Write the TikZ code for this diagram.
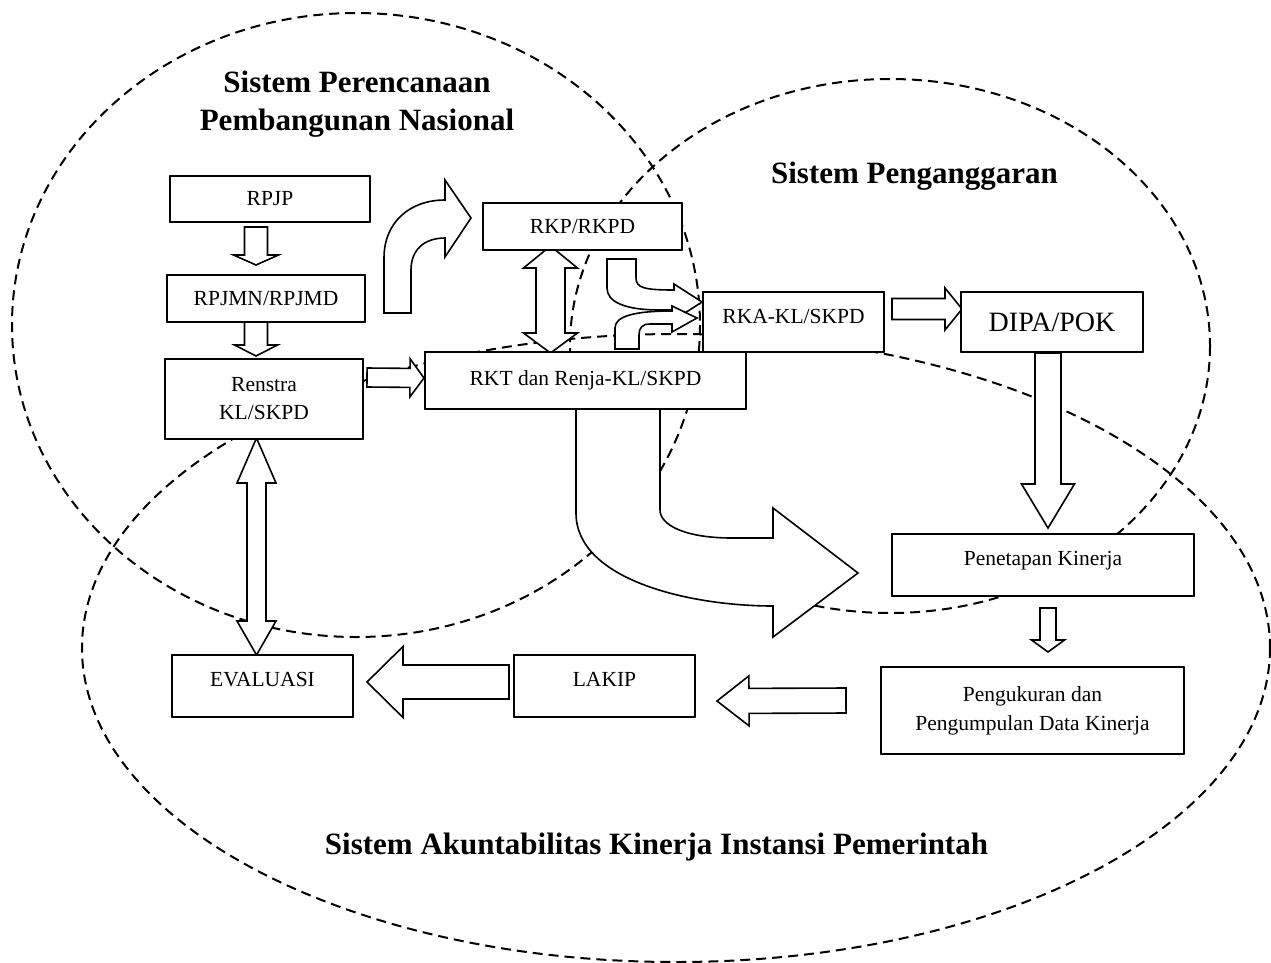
\documentclass[tikz,border=0pt]{standalone}
\usepackage{fontspec}
\setmainfont{Liberation Serif}
\usetikzlibrary{calc}
\tikzset{
  kotak/.style={draw, line width=2pt, fill=white, inner sep=0pt, outer sep=0pt,
    align=center, font=\fontsize{21.5pt}{28pt}\selectfont},
  naik/.style={text height=14pt, text depth=#1},
  judul/.style={align=center, font=\bfseries\fontsize{31pt}{38pt}\selectfont},
  putus/.style={dash pattern=on 10pt off 6pt, line width=2pt},
  blok/.style={draw, fill=white, line width=1.6pt, line join=miter}
}
% block arrow: start, tip, half shaft, half head, head length
\newcommand{\blokpanah}[5]{%
  \path #1 coordinate (pA) #2 coordinate (pB);
  \path ($(pB)!#5!(pA)$) coordinate (pH);
  \draw[blok] ($(pA)!#3!90:(pB)$) -- ($(pH)!#3!90:(pB)$) -- ($(pH)!#4!90:(pB)$)
    -- (pB) -- ($(pH)!#4!-90:(pB)$) -- ($(pH)!#3!-90:(pB)$) -- ($(pA)!#3!-90:(pB)$) -- cycle;
}
% double block arrow: tip A, tip B, half shaft, half head, head lengths
\newcommand{\blokganda}[6]{%
  \path #1 coordinate (pA) #2 coordinate (pB);
  \path ($(pA)!#5!(pB)$) coordinate (pH1) ($(pB)!#6!(pA)$) coordinate (pH2);
  \draw[blok] (pA) -- ($(pH1)!#4!90:(pB)$) -- ($(pH1)!#3!90:(pB)$) -- ($(pH2)!#3!90:(pB)$)
    -- ($(pH2)!#4!90:(pB)$) -- (pB) -- ($(pH2)!#4!-90:(pB)$) -- ($(pH2)!#3!-90:(pB)$)
    -- ($(pH1)!#3!-90:(pB)$) -- ($(pH1)!#4!-90:(pB)$) -- cycle;
}
\begin{document}
\begin{tikzpicture}[x=1pt, y=-1pt, line join=round]
  \useasboundingbox (0,0) rectangle (1271,962);
  % the three systems
  \draw[putus] (356,325) ellipse [x radius=344, y radius=312];
  \draw[putus] (890,346) ellipse [x radius=320, y radius=267];
  \draw[putus] (676,648) ellipse [x radius=594, y radius=314];
  \node[judul] (sppn) at (357,104) {Sistem Perencanaan\\Pembangunan Nasional};
  \node[judul] (spg) at (914.5,176) {Sistem Penganggaran};
  \node[judul] (sakip) at (656.5,847) {Sistem Akuntabilitas Kinerja Instansi Pemerintah};
  % boxes
  \path
    (270,199) coordinate (c1) (266,298.5) coordinate (c2) (264,399) coordinate (c3)
    (585.5,380.5) coordinate (c4) (582.5,226.5) coordinate (c5) (793.5,322) coordinate (c6)
    (1052,322) coordinate (c7) (1043,565) coordinate (c8) (1032.5,710.5) coordinate (c9)
    (604.5,686) coordinate (c10) (262.5,686) coordinate (c11);
  \path
    node[kotak, minimum width=200, minimum height=46] (rpjp) at (c1) {}
    node[kotak, minimum width=198, minimum height=47] (rpjmn) at (c2) {}
    node[kotak, minimum width=198, minimum height=80] (renstra) at (c3) {}
    node[kotak, minimum width=321, minimum height=57] (rkt) at (c4) {}
    node[kotak, minimum width=199, minimum height=47] (rkp) at (c5) {}
    node[kotak, minimum width=181, minimum height=60] (rka) at (c6) {}
    node[kotak, minimum width=182, minimum height=60] (dipa) at (c7) {}
    node[kotak, minimum width=302, minimum height=62] (penetapan) at (c8) {}
    node[kotak, minimum width=303, minimum height=87] (pengukuran) at (c9) {}
    node[kotak, minimum width=181, minimum height=62] (lakip) at (c10) {}
    node[kotak, minimum width=181, minimum height=62] (evaluasi) at (c11) {};
  % arrows
  \blokpanah{($(rpjp.south)+(-14,5)$)}{($(rpjmn.north)+(-10,-10)$)}{11.5pt}{22.5pt}{10pt}
  \blokpanah{($(rpjmn.south)+(-10,-5)$)}{($(renstra.north)+(-8,-3)$)}{11.5pt}{21.5pt}{11pt}
  \blokpanah{($(renstra.east)+(4,-21.5)$)}{($(rkt.west)+(-1,-2.5)$)}{9.5pt}{19pt}{14pt}
  \blokganda{($(renstra.south)+(-7.5,-1)$)}{($(evaluasi.north)+(-6,0)$)}{9.5pt}{19.5pt}{45pt}{34pt}
  \blokganda{($(rkp.south)+(-32,-4)$)}{($(rkt.north)+(-35,1)$)}{14.5pt}{27pt}{22pt}{20pt}
  \blokpanah{($(lakip.west)+(-5,-4)$)}{($(evaluasi.east)+(14,-4)$)}{17pt}{35.5pt}{36pt}
  \blokpanah{($(pengukuran.west)+(-35,-10)$)}{($(lakip.east)+(22,15)$)}{12.5pt}{25pt}{32pt}
  \blokpanah{($(penetapan.south)+(5,12)$)}{($(pengukuran.north)+(15.5,-15)$)}{8pt}{16.5pt}{12pt}
  \blokpanah{($(dipa.south)+(-4,1)$)}{($(penetapan.north)+(5,-6)$)}{13pt}{26.5pt}{44pt}
  \blokpanah{($(rka.east)+(8,-13)$)}{($(dipa.west)+(1,-13)$)}{10.5pt}{21pt}{17pt}
  % curved arrows
  \draw[blok] (384,313) -- (384,258) .. controls (384,222) and (410,200) .. (445,200)
    -- (445,180) -- (471,218) -- (445,257) -- (445,238)
    .. controls (424,238) and (411,250) .. (411,270) -- (411,313) -- cycle;
  \draw[blok] (607,259) -- (636,259) -- (636,278) .. controls (636,288) and (645,290) .. (674,290)
    -- (674,284) -- (702,302) -- (674,320) -- (674,310) -- (660,310)
    .. controls (625,310) and (607,302) .. (607,288) -- cycle;
  \draw[blok] (615,349) -- (615,328) .. controls (615,316) and (635,311) .. (672,311)
    -- (672,306) -- (697,318) -- (672,332) -- (672,324) -- (650,324)
    .. controls (642,324) and (639,328) .. (639,335) -- (639,349) -- cycle;
  \draw[blok] (576,409) -- (576,513) .. controls (576,580) and (690,606) .. (773,606)
    -- (773,637) -- (858,573) -- (773,508) -- (773,538) -- (732,538)
    .. controls (685,538) and (660,525) .. (660,510) -- (660,409) -- cycle;
  % boxes on top
  \path
    node[kotak, minimum width=200, minimum height=46] at (rpjp) {RPJP}
    node[kotak, minimum width=198, minimum height=47] at (rpjmn) {RPJMN/RPJMD}
    node[kotak, minimum width=198, minimum height=80] at (renstra) {Renstra\\KL/SKPD}
    node[kotak, minimum width=321, minimum height=57] at (rkt) {RKT dan Renja-KL/SKPD}
    node[kotak, minimum width=199, minimum height=47] at (rkp) {RKP/RKPD}
    node[kotak, naik=12pt, minimum width=181, minimum height=60] at (rka) {RKA-KL/SKPD}
    node[kotak, minimum width=182, minimum height=60, font=\fontsize{28pt}{32pt}\selectfont] at (dipa) {DIPA/POK}
    node[kotak, naik=14pt, minimum width=302, minimum height=62] at (penetapan) {Penetapan Kinerja}
    node[kotak, minimum width=303, minimum height=87, font=\fontsize{21.5pt}{29pt}\selectfont] at (pengukuran) {Pengukuran dan\\Pengumpulan Data Kinerja}
    node[kotak, naik=14pt, minimum width=181, minimum height=62] at (lakip) {LAKIP}
    node[kotak, naik=14pt, minimum width=181, minimum height=62] at (evaluasi) {EVALUASI};
\end{tikzpicture}
\end{document}
